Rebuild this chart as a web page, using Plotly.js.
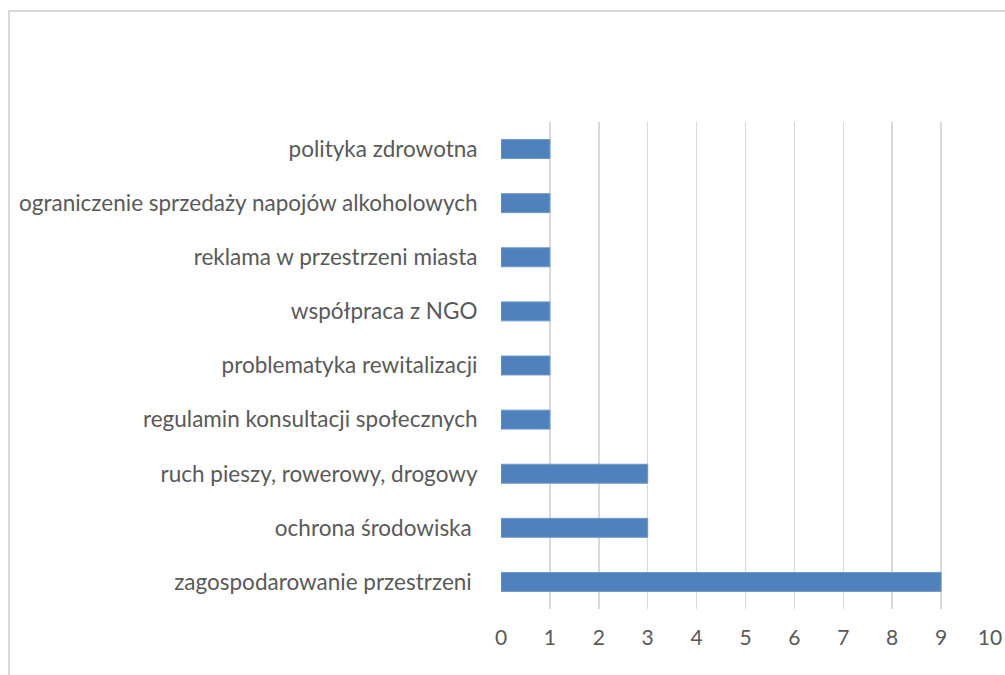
<!DOCTYPE html>
<html>
<head>
<meta charset="utf-8">
<script src="https://cdn.plot.ly/plotly-3.0.1.min.js"></script>
<style>
  html, body { margin: 0; padding: 0; background: #fff; }
  #wrap { position: relative; width: 1005px; height: 675px; overflow: hidden; }
  #chart { width: 1005px; height: 675px; }
  #frame { position: absolute; left: 8px; top: 10px; width: 1100px; height: 800px;
           border-left: 2px solid #d9d9d9; border-top: 2px solid #d9d9d9; pointer-events: none; }
</style>
</head>
<body>
<div id="wrap">
  <div id="chart"></div>
  <div id="frame"></div>
</div>
<script>
const categories = [
  "zagospodarowanie przestrzeni ",
  "ochrona środowiska ",
  "ruch pieszy, rowerowy, drogowy",
  "regulamin konsultacji społecznych",
  "problematyka rewitalizacji",
  "współpraca z NGO",
  "reklama w przestrzeni miasta",
  "ograniczenie sprzedaży napojów alkoholowych",
  "polityka zdrowotna"
];
const values = [9, 3, 3, 1, 1, 1, 1, 1, 1];
const tickValues = [0, 1, 2, 3, 4, 5, 6, 7, 8, 9, 10];

const trace = {
  type: 'bar',
  orientation: 'h',
  x: values,
  y: categories,
  marker: { color: '#4f81bd', line: { color: '#6f97c9', width: 1 } },
  hoverinfo: 'x+y'
};

const layout = {
  width: 1005,
  height: 675,
  margin: { l: 501, r: 15, t: 122, b: 66, pad: 0 },
  paper_bgcolor: '#ffffff',
  plot_bgcolor: '#ffffff',
  bargap: 0.65,
  showlegend: false,
  font: { family: 'Lato, sans-serif', color: '#595959', size: 22 },
  xaxis: {
    range: [0, 10],
    tickvals: tickValues,
    ticktext: tickValues.map(String),
    showgrid: true,
    gridcolor: '#d9d9d9',
    gridwidth: 1.5,
    zeroline: false,
    showline: false,
    ticks: 'outside',
    ticklen: 10,
    tickcolor: 'rgba(0,0,0,0)',
    tickfont: { size: 21, color: '#595959' },
    fixedrange: true
  },
  yaxis: {
    type: 'category',
    categoryorder: 'array',
    categoryarray: categories,
    showgrid: false,
    zeroline: false,
    showline: false,
    ticks: 'outside',
    ticklen: 18,
    tickcolor: 'rgba(0,0,0,0)',
    tickfont: { size: 22.5, color: '#595959' },
    fixedrange: true
  }
};

Plotly.newPlot('chart', [trace], layout, { displayModeBar: false, staticPlot: true });
</script>
</body>
</html>
